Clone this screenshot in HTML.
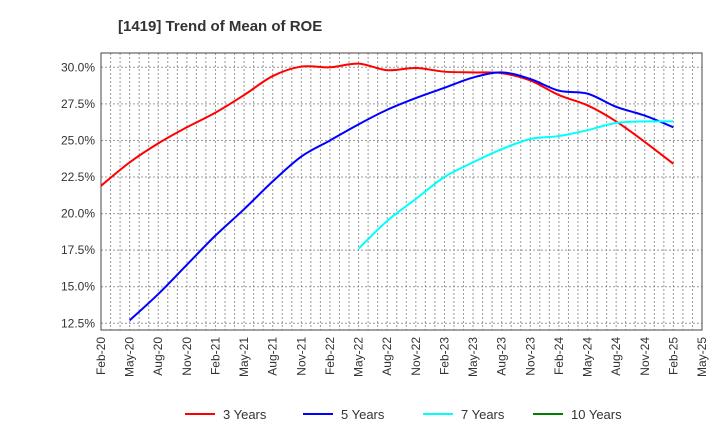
<!DOCTYPE html>
<html><head><meta charset="utf-8"><style>
body{margin:0;background:#fff;font-family:"Liberation Sans",sans-serif}
svg text{font-family:"Liberation Sans",sans-serif}
</style></head><body>
<svg id="c" width="720" height="440">
<text x="118" y="31" font-size="15" font-weight="bold" fill="#333">[1419]  Trend of Mean of ROE</text>
<g id="grid"></g><g id="axes"></g><g id="series"></g><g id="legend"></g>
</svg>
<script>
const xLabels=["Feb-20","May-20","Aug-20","Nov-20","Feb-21","May-21","Aug-21","Nov-21","Feb-22","May-22","Aug-22","Nov-22","Feb-23","May-23","Aug-23","Nov-23","Feb-24","May-24","Aug-24","Nov-24","Feb-25","May-25"];
const yTicks=[12.5,15,17.5,20,22.5,25,27.5,30];
const seriesNames=["3 Years","5 Years","7 Years","10 Years"];
const threeYears=[21.9,23.5,24.8,25.9,26.9,28.1,29.4,30.05,30.0,30.25,29.8,29.95,29.7,29.65,29.6,29.1,28.1,27.4,26.3,24.9,23.4];
const fiveYearsStart=1;
const fiveYears=[12.7,14.5,16.5,18.5,20.3,22.2,23.9,25.0,26.1,27.1,27.9,28.6,29.3,29.65,29.2,28.4,28.2,27.3,26.7,25.9];
const sevenYearsStart=9;
const sevenYears=[17.6,19.5,21.0,22.5,23.5,24.4,25.1,25.3,25.7,26.2,26.3,26.3];
const tenYears=[];
const L=101,R=702,T=53,B=330;
const x=i=>L+(R-L)*i/(xLabels.length-1);
const y=v=>67.3+(30-v)*(323.3-67.3)/17.5;
const NS="http://www.w3.org/2000/svg";
function mk(tag,at,parent){const e=document.createElementNS(NS,tag);for(const k in at)e.setAttribute(k,at[k]);document.getElementById(parent).appendChild(e);return e;}
// vertical monthly grid
for(let m=1;m<(xLabels.length-1)*3;m++){const xx=L+(R-L)*m/((xLabels.length-1)*3);
const g=mk("line",{x1:xx,x2:xx,y1:T,y2:B,stroke:"#999","stroke-dasharray":"2,2","stroke-width":1},"grid");

}
yTicks.forEach(v=>{const g=mk("line",{x1:L,x2:R,y1:y(v),y2:y(v),stroke:"#999","stroke-dasharray":"2,2","stroke-width":1},"grid");


const t=mk("text",{x:L-6,y:y(v)+4,"text-anchor":"end","font-size":12,fill:"#333"},"axes");t.textContent=v.toFixed(1)+"%";

});
xLabels.forEach((s,i)=>{const t=mk("text",{transform:`translate(${x(i)+4},337) rotate(-90)`,"text-anchor":"end","font-size":12,fill:"#333"},"axes");t.textContent=s;

});
const fr=mk("rect",{x:L,y:T,width:R-L,height:B-T,fill:"none",stroke:"#444","stroke-width":1},"axes");


function path(vals,start){const p=vals.map((v,i)=>[x(start+i),y(v)]);if(p.length<2)return "";let d=`M${p[0][0]},${p[0][1]}`;
for(let i=0;i<p.length-1;i++){const p0=p[i-1]||p[i],p1=p[i],p2=p[i+1],p3=p[i+2]||p2;
d+=` C${p1[0]+(p2[0]-p0[0])/6},${p1[1]+(p2[1]-p0[1])/6} ${p2[0]-(p3[0]-p1[0])/6},${p2[1]-(p3[1]-p1[1])/6} ${p2[0]},${p2[1]}`;}return d;}
const colors=["#ff0000","#0000ff","#00ffff","#008000"];
[[threeYears,0],[fiveYears,fiveYearsStart],[sevenYears,sevenYearsStart],[tenYears,0]].forEach(([v,s],k)=>{
if(!v.length)return;const e=mk("path",{d:path(v,s),fill:"none",stroke:colors[k],"stroke-width":2},"series");

});
const lx=[185,303,423,533];
seriesNames.forEach((n,k)=>{const l=mk("line",{x1:lx[k],x2:lx[k]+30,y1:414,y2:414,stroke:colors[k],"stroke-width":2},"legend");


const t=mk("text",{x:lx[k]+38,y:419,"font-size":13,fill:"#333"},"legend");t.textContent=n;

});
</script>
</body></html>
